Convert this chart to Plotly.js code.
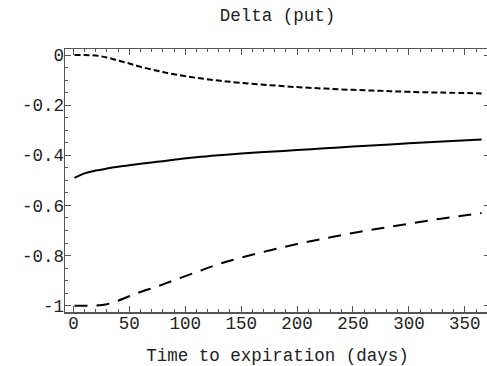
<!DOCTYPE html>
<html>
<head>
<meta charset="utf-8">
<script src="https://cdn.plot.ly/plotly-3.0.1.min.js"></script>
<style>
  html, body { margin: 0; padding: 0; overflow: hidden; background: #fff; }
  #chart { width: 490px; height: 366px; }
</style>
</head>
<body>
<div id="chart"></div>
<script>
// Days to expiration
const days = [1, 10, 20, 30, 40, 50, 60, 75, 90, 110, 130, 150, 175, 200, 225, 250, 275, 300, 330, 365];

// Put delta for three strikes
const deltaOTM = [0, 0, -0.002, -0.010, -0.022, -0.034, -0.047, -0.063, -0.077, -0.091, -0.102, -0.111, -0.120, -0.128, -0.134, -0.139, -0.143, -0.147, -0.150, -0.153];
const deltaATM = [-0.490, -0.472, -0.461, -0.453, -0.446, -0.440, -0.434, -0.426, -0.418, -0.408, -0.400, -0.393, -0.386, -0.379, -0.372, -0.365, -0.359, -0.352, -0.345, -0.337];
const deltaITM = [-1.0, -1.0, -0.999, -0.994, -0.980, -0.962, -0.945, -0.923, -0.898, -0.866, -0.834, -0.808, -0.780, -0.754, -0.731, -0.710, -0.691, -0.673, -0.652, -0.630];

// Axis ticks
const xTickVals = [0, 50, 100, 150, 200, 250, 300, 350];
const yTickVals = [0, -0.2, -0.4, -0.6, -0.8, -1];
const yTickText = ['0', '-0.2', '-0.4', '-0.6', '-0.8', '-1'];

const mono = 'Liberation Mono, Courier New, monospace';
const frame = '#555555';
const textColor = '#222';

const traces = [
  { x: days, y: deltaOTM, mode: 'lines', line: { color: '#000', width: 2, dash: '6px,3px', shape: 'spline' } },
  { x: days, y: deltaATM, mode: 'lines', line: { color: '#000', width: 2, shape: 'spline' } },
  { x: days, y: deltaITM, mode: 'lines', line: { color: '#000', width: 2, dash: '13px,9px', shape: 'spline' } }
];

const layout = {
  width: 490,
  height: 366,
  margin: { l: 65, r: 0, t: 49, b: 54 },
  paper_bgcolor: '#fff',
  plot_bgcolor: '#fff',
  showlegend: false,
  font: { family: mono, size: 17.5, color: textColor },
  title: {
    text: 'Delta (put)',
    x: 0.5, xref: 'paper', xanchor: 'center',
    y: 1 - 15 / 366, yref: 'container', yanchor: 'middle',
    font: { family: mono, size: 17.5, color: textColor }
  },
  xaxis: {
    range: [-7.5, 372.5],
    tickvals: xTickVals,
    ticks: 'inside', ticklen: 6, tickwidth: 1, tickcolor: frame,
    ticklabelstandoff: -6,
    minor: { dtick: 10, tick0: 0, ticks: 'inside', ticklen: 3, tickcolor: frame, showgrid: false },
    showline: true, linecolor: frame, linewidth: 1.5, mirror: 'ticks',
    showgrid: false, zeroline: false,
    tickfont: { family: mono, size: 17.5, color: textColor },
    title: { text: 'Time to expiration (days)', standoff: 20, font: { family: mono, size: 17.5, color: textColor } }
  },
  yaxis: {
    range: [-1.025, 0.024],
    tickvals: yTickVals,
    ticktext: yTickText,
    ticks: 'inside', ticklen: 6, tickwidth: 1, tickcolor: frame,
    ticklabelstandoff: -4,
    minor: { dtick: 0.05, tick0: 0, ticks: 'inside', ticklen: 3, tickcolor: frame, showgrid: false },
    showline: true, linecolor: frame, linewidth: 1.5, mirror: 'ticks',
    showgrid: false, zeroline: false,
    tickfont: { family: mono, size: 17.5, color: textColor }
  }
};

Plotly.newPlot('chart', traces, layout, { displayModeBar: false, staticPlot: true });
</script>
</body>
</html>
